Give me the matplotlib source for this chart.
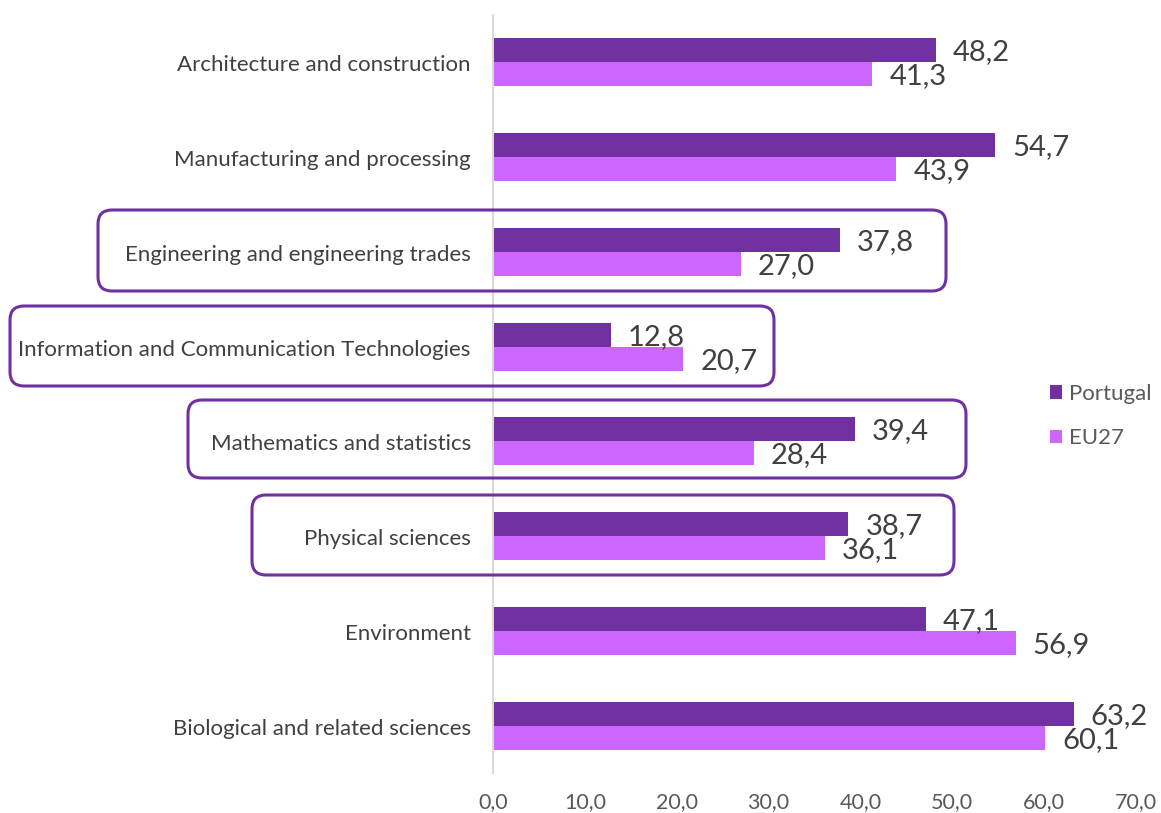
import matplotlib.pyplot as plt
import numpy as np
from matplotlib.patches import FancyBboxPatch
from matplotlib.transforms import IdentityTransform

plt.rcParams['font.family'] = ['Lato', 'DejaVu Sans']

categories = ['Architecture and construction', 'Manufacturing and processing',
              'Engineering and engineering trades', 'Information and Communication Technologies',
              'Mathematics and statistics', 'Physical sciences', 'Environment',
              'Biological and related sciences']
portugal = [48.2, 54.7, 37.8, 12.8, 39.4, 38.7, 47.1, 63.2]
eu27 = [41.3, 43.9, 27.0, 20.7, 28.4, 36.1, 56.9, 60.1]
xticks = [0, 10, 20, 30, 40, 50, 60, 70]

# highlighted rows: (left, top, right, bottom) in pixels from top-left
boxes = [(98, 210, 946, 291), (10, 306, 774, 386),
         (188, 400, 966, 478), (252, 495, 954, 575)]

dark = '#7030A0'
light = '#CC66FF'
grey_txt = '#404040'


def fmt(v):
    return f'{v:.1f}'.replace('.', ',')


W, H = 1161, 813
fig = plt.figure(figsize=(W / 100, H / 100), dpi=100)
ax = fig.add_axes([493 / W, 1 - 773 / H, (1136 - 493) / W, (773 - 15) / H])

y = np.arange(len(categories))
bh = 0.253
b1 = ax.barh(y - bh / 2, portugal, height=bh, color=dark, label='Portugal')
b2 = ax.barh(y + bh / 2, eu27, height=bh, color=light, label='EU27')

for bars, vals in [(b1, portugal), (b2, eu27)]:
    for rect, v in zip(bars, vals):
        ax.annotate(fmt(v), (v, rect.get_y() + rect.get_height() / 2),
                    xytext=(17, -2), textcoords='offset pixels',
                    va='center', ha='left', fontsize=21, color=grey_txt)

ax.set_xlim(0, 70)
ax.set_ylim(7.5, -0.5)
ax.set_yticks(y + 0.01)
ax.set_yticklabels(categories, fontsize=16, color=grey_txt)
ax.set_xticks(xticks)
ax.set_xticklabels([fmt(t) for t in xticks], fontsize=15.5, color='#595959')
ax.tick_params(axis='both', length=0)
ax.tick_params(axis='y', pad=16)
ax.tick_params(axis='x', pad=14)
for s in ['top', 'right', 'bottom']:
    ax.spines[s].set_visible(False)
ax.spines['left'].set_color('#D9D9D9')
ax.spines['left'].set_linewidth(1.5)

ax.legend(loc='center left', bbox_to_anchor=((1030 - 493) / (1136 - 493), 1 - (416 - 15) / 758),
          frameon=False, fontsize=16, handlelength=0.55, handleheight=0.55,
          handletextpad=0.3, labelspacing=1.1, labelcolor='#595959')

for x0, y0, x1, y1 in boxes:
    p = FancyBboxPatch((x0, H - y1), x1 - x0, y1 - y0,
                       boxstyle='round,pad=0,rounding_size=14',
                       transform=IdentityTransform(), fill=False,
                       edgecolor=dark, linewidth=2.2)
    fig.patches.append(p)

fig.savefig('out.png', dpi=100)
